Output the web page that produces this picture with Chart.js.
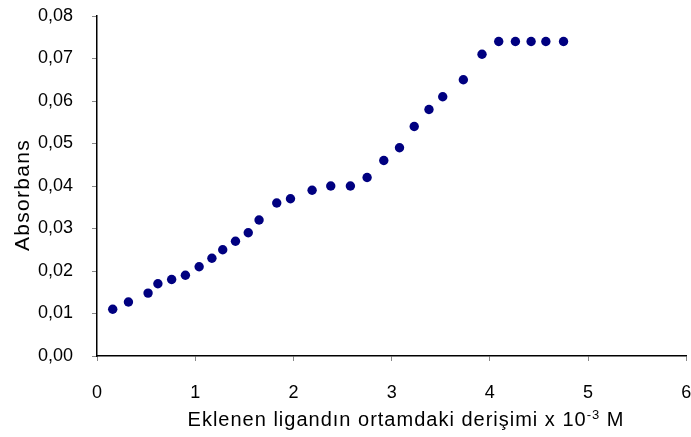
<!DOCTYPE html>
<html>
<head>
<meta charset="utf-8">
<script src="https://cdn.jsdelivr.net/npm/chart.js@4"></script>
<style>
  html, body { margin: 0; padding: 0; background: #fff; }
  #wrap { width: 691px; height: 437px; }
</style>
</head>
<body>
<div id="wrap"><canvas id="chart" width="691" height="437"></canvas></div>
<script>
// derişim (x 10^-3 M) ve absorbans değerleri
const concentration = [0.16, 0.32, 0.52, 0.62, 0.76, 0.90, 1.04, 1.17, 1.28, 1.41, 1.54, 1.65,
  1.83, 1.97, 2.19, 2.38, 2.58, 2.75, 2.92, 3.08, 3.23, 3.38, 3.52, 3.73, 3.92, 4.09, 4.26,
  4.42, 4.57, 4.75];
const absorbance = [0.011, 0.0127, 0.0148, 0.017, 0.018, 0.019, 0.021, 0.023, 0.025, 0.027,
  0.029, 0.032, 0.036, 0.037, 0.039, 0.040, 0.040, 0.042, 0.046, 0.049, 0.054, 0.058, 0.061,
  0.065, 0.071, 0.074, 0.074, 0.074, 0.074, 0.074];
const xTicks = [0, 1, 2, 3, 4, 5, 6];
const yTicks = [0, 0.01, 0.02, 0.03, 0.04, 0.05, 0.06, 0.07, 0.08];
const xTitle = ['Eklenen ligandın ortamdaki derişimi x 10', '-3', ' M'];
const yTitle = 'Absorbans';

const fontFamily = '"Liberation Sans", Arial, sans-serif';

const points = concentration.map((x, i) => ({ x: x, y: absorbance[i] }));

// eksen başlıkları elle çiziliyor (üst simge ve harf aralığı için)
const titlesPlugin = {
  id: 'titles',
  afterDraw(chart) {
    const ctx = chart.ctx;
    ctx.save();
    ctx.fillStyle = '#000';
    ctx.textBaseline = 'alphabetic';
    ctx.textAlign = 'left';

    // x ekseni
    ctx.letterSpacing = '1px';
    ctx.font = '20px ' + fontFamily;
    const w1 = ctx.measureText(xTitle[0]).width;
    const w3 = ctx.measureText(xTitle[2]).width;
    ctx.font = '13px ' + fontFamily;
    const w2 = ctx.measureText(xTitle[1]).width;
    let x = 406 - (w1 + w2 + w3) / 2;
    const y = 425.5;
    ctx.font = '20px ' + fontFamily;
    ctx.fillText(xTitle[0], x, y);
    x += w1;
    ctx.font = '13px ' + fontFamily;
    ctx.fillText(xTitle[1], x, y - 7);
    x += w2;
    ctx.font = '20px ' + fontFamily;
    ctx.fillText(xTitle[2], x, y);

    // y ekseni
    ctx.letterSpacing = '1.3px';
    ctx.font = '21px ' + fontFamily;
    ctx.translate(28.5, 195);
    ctx.rotate(-Math.PI / 2);
    ctx.textAlign = 'center';
    ctx.fillText(yTitle, 0, 0);
    ctx.restore();
  }
};

new Chart(document.getElementById('chart'), {
  type: 'scatter',
  data: {
    datasets: [{
      data: points,
      backgroundColor: '#000080',
      borderColor: '#000080',
      pointRadius: 4.7,
      pointHoverRadius: 4.7,
      borderWidth: 0
    }]
  },
  options: {
    responsive: false,
    animation: false,
    layout: { padding: { top: 16, right: 1, left: 0, bottom: 0 } },
    plugins: {
      legend: { display: false },
      tooltip: { enabled: false }
    },
    scales: {
      x: {
        type: 'linear',
        min: 0,
        max: 6,
        afterBuildTicks(scale) {
          scale.ticks = xTicks.map(v => ({ value: v }));
        },
        afterFit(scale) {
          scale.height = 81;
          scale.paddingRight = 0;
          scale.paddingLeft = 0;
        },
        border: { color: '#000', width: 1.5 },
        grid: {
          drawOnChartArea: false,
          drawTicks: true,
          tickLength: 5,
          color: '#888'
        },
        ticks: {
          color: '#000',
          padding: 21,
          font: { family: fontFamily, size: 18 },
          callback: v => String(v)
        }
      },
      y: {
        type: 'linear',
        min: 0,
        max: 0.08,
        afterBuildTicks(scale) {
          scale.ticks = yTicks.map(v => ({ value: v }));
        },
        afterFit(scale) {
          scale.width = 97;
          scale.paddingTop = 0;
          scale.paddingBottom = 0;
        },
        border: { color: '#000', width: 1.5 },
        grid: {
          drawOnChartArea: false,
          drawTicks: true,
          tickLength: 5,
          color: '#888'
        },
        ticks: {
          color: '#000',
          padding: 19,
          font: { family: fontFamily, size: 18 },
          callback: v => v.toFixed(2).replace('.', ',')
        }
      }
    }
  },
  plugins: [titlesPlugin]
});
</script>
</body>
</html>
